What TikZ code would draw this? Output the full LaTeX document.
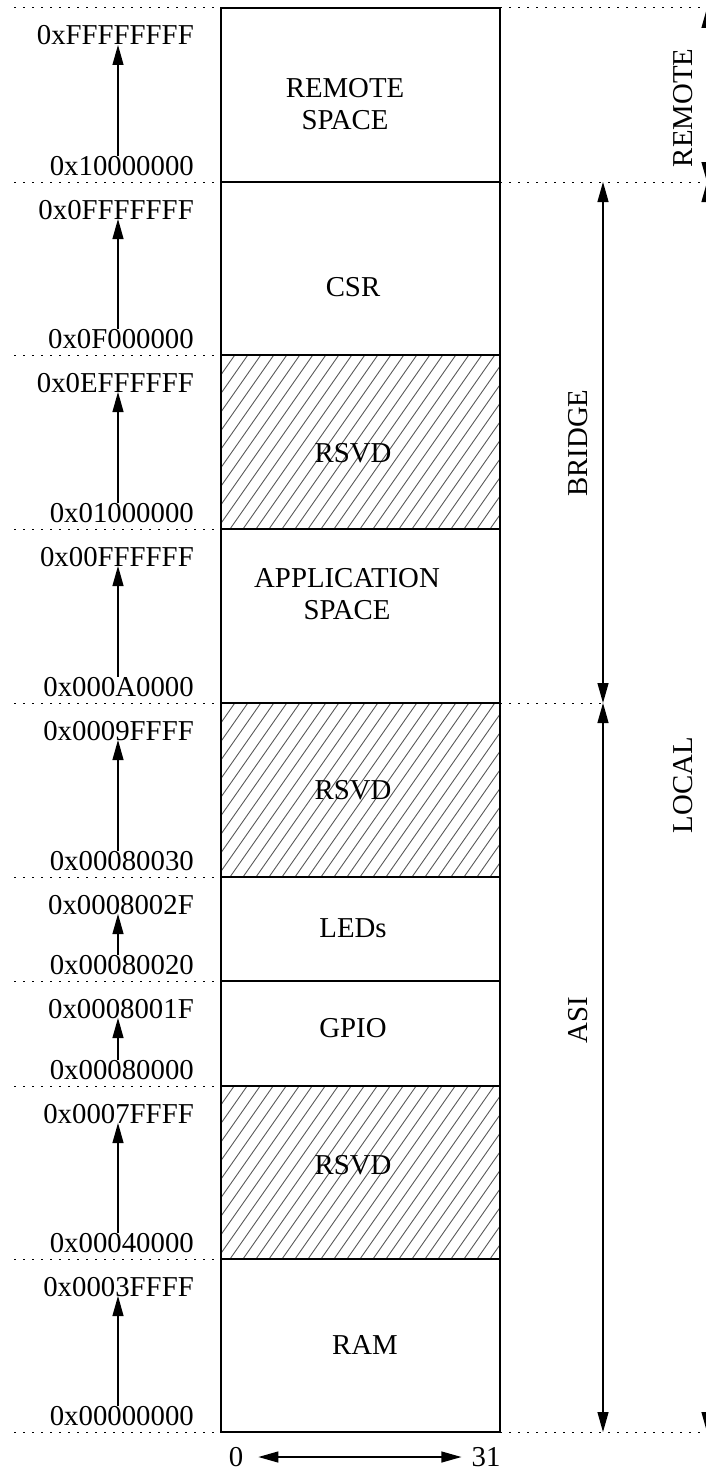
\documentclass[tikz,border=0pt]{standalone}
\usepackage{fontspec}
\setmainfont{Liberation Serif}
\usetikzlibrary{arrows.meta}
\tikzset{
  sep/.style={line width=1pt, dash pattern=on 1.5pt off 7.5pt},
  addr/.style={anchor=base east, inner sep=0pt},
  hatch/.style={line width=0.9pt, black!65},
  span/.style={<->, line width=1.2pt},
  region/.style={align=center, inner sep=0pt}
}
\begin{document}
\begin{tikzpicture}[x=1pt, y=1pt, >={Triangle[length=20pt, width=11pt]}, font=\fontsize{28.8}{32}\selectfont]
\useasboundingbox (0, 0) rectangle (706, -1472);
\path
(118, 0) coordinate (ax)
(603, -182) coordinate (bridgeTop)
(603, -703) coordinate (bridgeBot)
(603, -703) coordinate (asiTop)
(603, -1432) coordinate (asiBot)
(707, -8) coordinate (remTop)
(707, -182) coordinate (remBot)
(707, -182) coordinate (locTop)
(707, -1432) coordinate (locBot);
% reserved areas
\foreach \t/\b in {355/529, 703/877, 1086/1259} {
	\begin{scope}
		\clip (221, -\t) rectangle (500, -\b);
		\foreach \k in {0,...,34}
			\draw[hatch] (100+\k*13, -\b) -- ++(55:220);
	\end{scope}
}
% address map
\draw[line width=1.5pt] (221, -8) rectangle (500, -1432);
\foreach \y in {182, 355, 529, 703, 877, 981, 1086, 1259}
	\draw[line width=1.5pt] (221, -\y) -- (500, -\y);
\foreach \y in {8, 182, 355, 529, 703, 877, 981, 1086, 1259, 1432}
	\draw[sep] (14, -\y) -- (221, -\y);
\draw[sep] (500, -8) -- (706, -8) (500, -182) -- (706, -182)
	(500, -703) -- (603, -703) (500, -1432) -- (706, -1432);
\foreach \t/\b/\hi/\lo [count=\i] in {
	8/182/0xFFFFFFFF/0x10000000,
	182/355/0x0FFFFFFF/0x0F000000,
	355/529/0x0EFFFFFF/0x01000000,
	529/703/0x00FFFFFF/0x000A0000,
	703/877/0x0009FFFF/0x00080030,
	877/981/0x0008002F/0x00080020,
	981/1086/0x0008001F/0x00080000,
	1086/1259/0x0007FFFF/0x00040000,
	1259/1432/0x0003FFFF/0x00000000
} {
	\node[addr] (hi\i) at (194, -\t-37) {\hi};
	\node[addr] (lo\i) at (194, -\b+7) {\lo};
	\draw[->, line width=1.2pt] (lo\i.north -| ax) -- (hi\i.base -| ax);
}
\foreach \p/\lbl/\x/\y in {
	remote/{REMOTE\\SPACE}/345/104,
	csr/CSR/353/287,
	rsvdA/RSVD/353/453,
	app/{APPLICATION\\SPACE}/347/594,
	rsvdB/RSVD/353/790,
	leds/LEDs/353/928,
	gpio/GPIO/353/1028,
	rsvdC/RSVD/353/1165,
	ram/RAM/365/1345
} {
	\node[region] (\p) at (\x, -\y) {\lbl};
}
% bit width
\node[inner sep=0pt] (bit0) at (236, -1457) {0};
\node[inner sep=0pt] (bit31) at (486, -1457) {31};
\draw[span, shorten <=15pt, shorten >=10pt] (bit0.east) -- (bit31.west);
% spaces
\draw[span] (bridgeTop) -- (bridgeBot);
\node[rotate=90] (bridge) at (578, -443) {BRIDGE};
\draw[span] (asiTop) -- (asiBot);
\node[rotate=90] (asi) at (578, -1020) {ASI};
\draw[span] (remTop) -- (remBot);
\node[rotate=90] (remote) at (683, -108) {REMOTE};
\draw[span] (locTop) -- (locBot);
\node[rotate=90] (local) at (683, -785) {LOCAL};
\end{tikzpicture}
\end{document}
